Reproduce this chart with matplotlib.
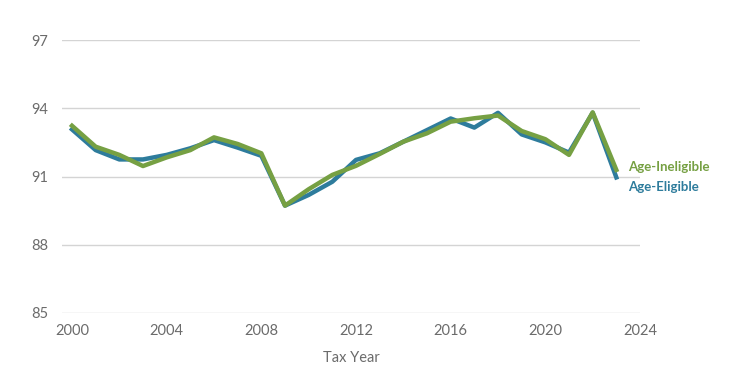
import matplotlib
matplotlib.use("Agg")
import matplotlib.pyplot as plt

years = list(range(2000, 2024))
age_eligible = [93.07, 92.16, 91.75, 91.75, 91.95, 92.24, 92.60, 92.27, 91.91, 89.72,
                90.19, 90.77, 91.73, 92.02, 92.53, 93.04, 93.55, 93.15, 93.80, 92.85,
                92.50, 92.05, 93.80, 90.96]
age_ineligible = [93.23, 92.31, 91.95, 91.46, 91.84, 92.16, 92.72, 92.43, 92.02, 89.72,
                  90.44, 91.07, 91.47, 91.99, 92.53, 92.90, 93.41, 93.56, 93.68, 93.00,
                  92.64, 91.95, 93.82, 91.29]
y_ticks = [85, 88, 91, 94, 97]
x_ticks = [2000, 2004, 2008, 2012, 2016, 2020, 2024]

blue = "#2E7C9C"
green = "#76A043"
plt.rcParams['font.family'] = ['Lato', 'DejaVu Sans']

fig = plt.figure(figsize=(7.5, 3.75), dpi=100)
ax = fig.add_axes([62/750, 62/375, 578/750, 273/375])
ax.plot(years, age_eligible, color=blue, lw=3.2, solid_joinstyle='round', zorder=3)
ax.plot(years, age_ineligible, color=green, lw=3.2, solid_joinstyle='round', zorder=4)

ax.set_xlim(2000 - 10/23.67, 2024)
ax.set_ylim(85, 97)
ax.set_yticks(y_ticks)
ax.set_xticks(x_ticks)
ax.grid(axis='y', color='#d4d4d4', lw=1.0)
ax.set_axisbelow(True)
for s in ax.spines.values():
    s.set_visible(False)
ax.tick_params(length=0, labelsize=10.5, labelcolor='#6b6b6b')
ax.tick_params(axis='y', pad=10)
ax.tick_params(axis='x', pad=8)
ax.set_xlabel("Tax Year", fontsize=10.5, color='#6b6b6b', labelpad=9)

ax.text(628/750, 1 - 167/375, "Age-Ineligible", transform=fig.transFigure, color=green,
        fontsize=9.5, fontweight='bold', va='center', ha='left')
ax.text(628/750, 1 - 187/375, "Age-Eligible", transform=fig.transFigure, color=blue,
        fontsize=9.5, fontweight='bold', va='center', ha='left')

fig.savefig("out.png", dpi=100)
